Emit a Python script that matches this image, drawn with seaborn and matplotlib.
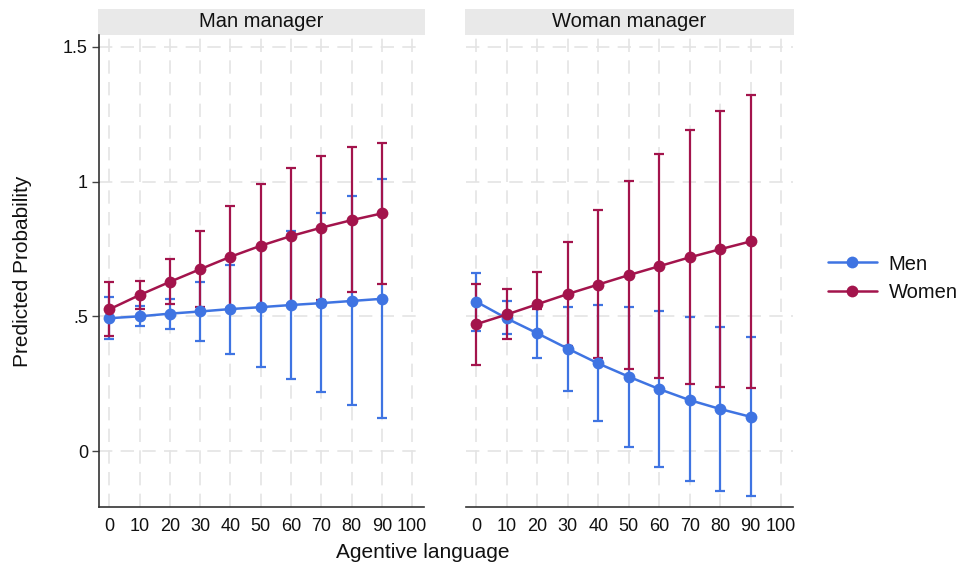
import numpy as np
import pandas as pd
import matplotlib
matplotlib.use("Agg")
import matplotlib.pyplot as plt
from matplotlib.patches import Rectangle
from matplotlib.lines import Line2D
import seaborn as sns

# Predicted probabilities
agentive = [0, 10, 20, 30, 40, 50, 60, 70, 80, 90]
panels = ["Man manager", "Woman manager"]

# Man manager
man_men = [0.493, 0.500, 0.510, 0.518, 0.527, 0.534, 0.542, 0.549, 0.557, 0.565]
man_men_lo = [0.414, 0.463, 0.452, 0.410, 0.362, 0.313, 0.266, 0.218, 0.171, 0.124]
man_men_hi = [0.573, 0.538, 0.566, 0.626, 0.690, 0.755, 0.818, 0.884, 0.946, 1.010]
man_women = [0.526, 0.579, 0.628, 0.675, 0.721, 0.762, 0.798, 0.829, 0.857, 0.882]
man_women_lo = [0.427, 0.527, 0.544, 0.533, 0.532, 0.533, 0.545, 0.561, 0.589, 0.620]
man_women_hi = [0.626, 0.631, 0.712, 0.817, 0.910, 0.991, 1.051, 1.097, 1.129, 1.145]

# Woman manager
wom_men = [0.554, 0.492, 0.437, 0.380, 0.325, 0.276, 0.230, 0.189, 0.156, 0.127]
wom_men_lo = [0.446, 0.434, 0.344, 0.224, 0.111, 0.016, -0.059, -0.111, -0.147, -0.167]
wom_men_hi = [0.662, 0.558, 0.533, 0.535, 0.542, 0.535, 0.520, 0.496, 0.461, 0.422]
wom_women = [0.471, 0.507, 0.545, 0.583, 0.618, 0.653, 0.686, 0.719, 0.749, 0.778]
wom_women_lo = [0.320, 0.414, 0.529, 0.389, 0.344, 0.305, 0.272, 0.247, 0.236, 0.235]
wom_women_hi = [0.620, 0.601, 0.665, 0.777, 0.894, 1.004, 1.103, 1.191, 1.264, 1.320]

x_ticks = [0, 10, 20, 30, 40, 50, 60, 70, 80, 90, 100]
y_ticks = [0, 0.5, 1, 1.5]
y_ticklabels = ["0", ".5", "1", "1.5"]

colors = {"Men": "#3f74e2", "Women": "#a3144c"}

rows = []
series = {
    ("Man manager", "Men"): (man_men, man_men_lo, man_men_hi),
    ("Man manager", "Women"): (man_women, man_women_lo, man_women_hi),
    ("Woman manager", "Men"): (wom_men, wom_men_lo, wom_men_hi),
    ("Woman manager", "Women"): (wom_women, wom_women_lo, wom_women_hi),
}
for (panel, grp), (mid, lo, hi) in series.items():
    for x, m, l, h in zip(agentive, mid, lo, hi):
        rows.append({"panel": panel, "group": grp, "x": x, "y": m, "lo": l, "hi": h})
df = pd.DataFrame(rows)

sns.set_style("white")
plt.rcParams["font.family"] = ["Liberation Sans", "DejaVu Sans"]
plt.rcParams["text.color"] = "#111111"
plt.rcParams["xtick.color"] = "#111111"
plt.rcParams["ytick.color"] = "#111111"

fig = plt.figure(figsize=(9.66, 5.71), dpi=100)
ax_l = fig.add_axes([0.1025, 0.112, 0.336, 0.827])
ax_r = fig.add_axes([0.4825, 0.112, 0.338, 0.827], sharey=ax_l)

for ax, panel in zip([ax_l, ax_r], panels):
    sub = df[df["panel"] == panel]
    # dashed grid
    for gx in x_ticks:
        ax.axvline(gx, color="#e4e4e4", lw=1.2, ls=(0, (8, 5)), zorder=0)
    for gy in y_ticks:
        ax.axhline(gy, color="#e4e4e4", lw=1.2, ls=(0, (8, 5)), zorder=0)
    # confidence intervals
    for grp in ["Men", "Women"]:
        g = sub[sub["group"] == grp]
        ax.errorbar(g["x"], g["y"], yerr=[g["y"] - g["lo"], g["hi"] - g["y"]],
                    fmt="none", ecolor=colors[grp], elinewidth=1.6,
                    capsize=3.5, capthick=1.6, zorder=2)
    sns.lineplot(data=sub, x="x", y="y", hue="group", hue_order=["Men", "Women"],
                 palette=colors, marker="o", markersize=8.5, markeredgewidth=0,
                 linewidth=1.8, ax=ax, legend=False, zorder=3)
    ax.set_xlim(-3.4, 103.8)
    ax.set_ylim(-0.208, 1.545)
    ax.set_xticks(x_ticks)
    ax.set_xticklabels([str(t) for t in x_ticks], fontsize=13)
    ax.set_xlabel("")
    ax.set_ylabel("")
    ax.tick_params(axis="x", length=5, width=1, color="#444444", pad=3)
    for s in ["top", "right"]:
        ax.spines[s].set_visible(False)
    ax.spines["bottom"].set_color("#333333")
    ax.spines["bottom"].set_linewidth(1.2)
    # facet strip
    ax.add_patch(Rectangle((-0.003, 1.0), 1.006, 0.055, transform=ax.transAxes,
                           facecolor="#e9e9e9", edgecolor="none", clip_on=False))
    ax.text(0.5, 1.0275, panel, transform=ax.transAxes, ha="center", va="center",
            fontsize=14.5)

ax_l.set_yticks(y_ticks)
ax_l.set_yticklabels(y_ticklabels, fontsize=13)
ax_l.tick_params(axis="y", length=5, width=1, color="#444444", pad=3, left=True)
ax_l.spines["left"].set_color("#333333")
ax_l.spines["left"].set_linewidth(1.2)
ax_r.spines["left"].set_visible(False)
ax_r.tick_params(axis="y", left=False, labelleft=False)

fig.text(0.023, 0.525, "Predicted Probability", rotation=90, ha="center",
         va="center", fontsize=15)
fig.text(0.438, 0.032, "Agentive language", ha="center", va="center", fontsize=15)

handles = [Line2D([0], [0], color=colors[g], lw=1.8, marker="o", markersize=8.5,
                  markeredgewidth=0) for g in ["Men", "Women"]]
fig.legend(handles, ["Men", "Women"], loc="center left",
           bbox_to_anchor=(0.849, 0.513), borderaxespad=0, frameon=False,
           fontsize=14.5, handlelength=2.4, handletextpad=0.6, labelspacing=0.45)

fig.savefig("out.png", dpi=100)
